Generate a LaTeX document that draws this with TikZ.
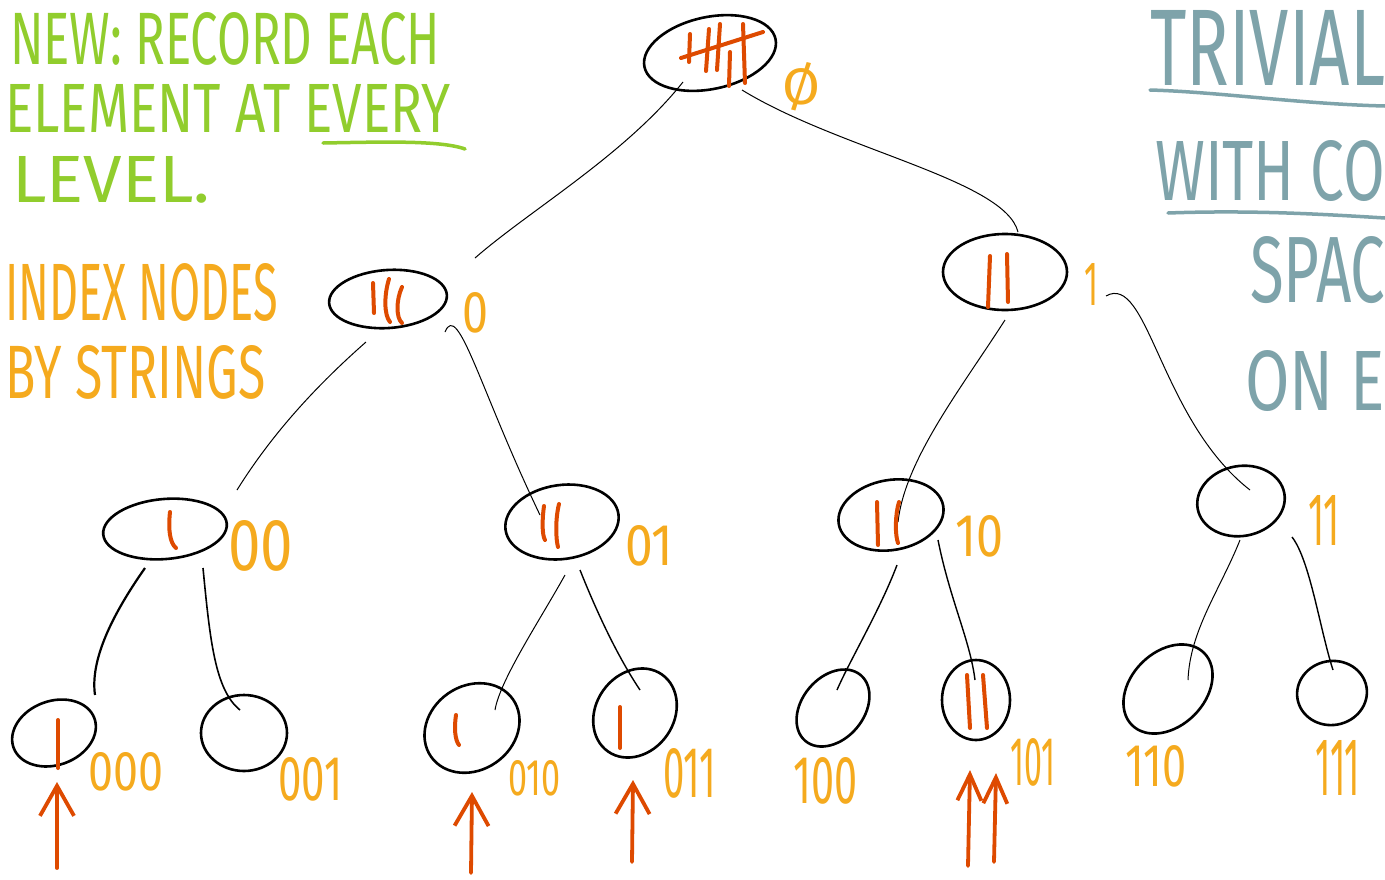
\documentclass[tikz,border=0pt]{standalone}
\usepackage{fontspec}
\setmainfont{Fira Sans}
\usepackage{graphicx}
\usetikzlibrary{shapes.geometric,arrows.meta,calc}
\definecolor{hwgreen}{RGB}{145,205,45}
\definecolor{hworange}{RGB}{245,170,30}
\definecolor{hwred}{RGB}{222,74,0}
\definecolor{hwblue}{RGB}{126,163,170}
\newcommand\hwbox[3]{\resizebox{#1pt}{#2pt}{#3}}
\begin{document}
\begin{tikzpicture}[x=1pt,y=-1pt,
  tnode/.style={ellipse,draw=black,line width=2.6pt,inner sep=0pt},
  edge/.style={draw=black,line width=1pt},
  tally/.style={draw=hwred,line width=4pt,line cap=round},
  redarrow/.style={draw=hwred,line width=3.8pt,line cap=round,-{Straight Barb[length=30pt,width=34pt]}},
  narrowarrow/.style={draw=hwred,line width=3.8pt,line cap=round,-{Straight Barb[length=26pt,width=24pt]}},
  lbl/.style={text=hworange,inner sep=0pt,anchor=base west},
  gtxt/.style={text=hwgreen,inner sep=0pt,anchor=base west},
  otxt/.style={text=hworange,inner sep=0pt,anchor=base west},
  btxt/.style={text=hwblue,inner sep=0pt,anchor=base west},
  uline/.style={line width=3.5pt,line cap=round}
]
\useasboundingbox (0,0) rectangle (1385,879);
\fill[white] (0,0) rectangle (1385,879);

% ---------- tree nodes ----------
\node[tnode,minimum width=134pt,minimum height=72pt,rotate=12] (root) at (710,53) {};
\node[tnode,minimum width=118pt,minimum height=58pt,rotate=4] (n0) at (388,299) {};
\node[tnode,minimum width=124pt,minimum height=76pt] (n1) at (1005,272) {};
\node[tnode,minimum width=124pt,minimum height=60pt,rotate=5] (n00) at (165,529) {};
\node[tnode,minimum width=114pt,minimum height=74pt,rotate=8] (n01) at (562,522) {};
\node[tnode,minimum width=106pt,minimum height=70pt,rotate=10] (n10) at (891,515) {};
\node[tnode,minimum width=88pt,minimum height=70pt,rotate=10] (n11) at (1241,501) {};
\node[tnode,minimum width=86pt,minimum height=64pt,rotate=20] (n000) at (54,733) {};
\node[tnode,minimum width=86pt,minimum height=76pt] (n001) at (244,733) {};
\node[tnode,minimum width=100pt,minimum height=84pt,rotate=35] (n010) at (472,728) {};
\node[tnode,minimum width=94pt,minimum height=78pt,rotate=55] (n011) at (635,713) {};
\node[tnode,minimum width=86pt,minimum height=62pt,rotate=50] (n100) at (833,708) {};
\node[tnode,minimum width=68pt,minimum height=80pt] (n101) at (976,700) {};
\node[tnode,minimum width=102pt,minimum height=74pt,rotate=45] (n110) at (1168,689) {};
\node[tnode,minimum width=70pt,minimum height=64pt,rotate=10] (n111) at (1332,693) {};

% ---------- edge end points ----------
\coordinate (e1a) at (683,82);   \coordinate (e1b) at (475,258);
\coordinate (e2a) at (742,90);   \coordinate (e2b) at (1018,232);
\coordinate (e3a) at (366,342);  \coordinate (e3b) at (237,490);
\coordinate (e4a) at (445,332);  \coordinate (e4b) at (540,515);
\coordinate (e5a) at (1005,320); \coordinate (e5b) at (898,522);
\coordinate (e6a) at (1106,296); \coordinate (e6b) at (1250,490);
\coordinate (e7a) at (145,568);  \coordinate (e7b) at (95,695);
\coordinate (e8a) at (203,568);  \coordinate (e8b) at (240,710);
\coordinate (e9a) at (565,575);  \coordinate (e9b) at (495,710);
\coordinate (e10a) at (580,570); \coordinate (e10b) at (640,690);
\coordinate (e11a) at (897,565); \coordinate (e11b) at (837,690);
\coordinate (e12a) at (938,540); \coordinate (e12b) at (975,680);
\coordinate (e13a) at (1240,540);\coordinate (e13b) at (1188,680);
\coordinate (e14a) at (1292,537);\coordinate (e14b) at (1333,670);

\draw[edge] (e1a) .. controls (625,155) and (530,210) .. (e1b);
\draw[edge] (e2a) .. controls (840,150) and (1005,180) .. (e2b);
\draw[edge] (e3a) .. controls (300,400) and (262,450) .. (e3b);
\draw[edge] (e4a) .. controls (458,300) and (480,390) .. (e4b);
\draw[edge] (e5a) .. controls (960,390) and (905,460) .. (e5b);
\draw[edge] (e6a) .. controls (1148,272) and (1160,420) .. (e6b);
\draw[edge,line width=2.2pt] (e7a) .. controls (112,615) and (90,660) .. (e7b);
\draw[edge,line width=1.6pt] (e8a) .. controls (210,640) and (215,690) .. (e8b);
\draw[edge] (e9a) .. controls (540,620) and (500,680) .. (e9b);
\draw[edge,line width=1.4pt] (e10a) .. controls (600,620) and (620,660) .. (e10b);
\draw[edge,line width=1.4pt] (e11a) .. controls (880,610) and (850,660) .. (e11b);
\draw[edge,line width=1.4pt] (e12a) .. controls (950,600) and (970,640) .. (e12b);
\draw[edge] (e13a) .. controls (1220,590) and (1190,630) .. (e13b);
\draw[edge,line width=1.4pt] (e14a) .. controls (1310,560) and (1320,630) .. (e14b);

% ---------- tallies ----------
\draw[tally] (690,34) -- (689,62);
\draw[tally] (709,29) -- (706,71);
\draw[tally] (720,24) -- (717,70);
\draw[tally] (730,52) -- (729,86);
\draw[tally] (743,24) -- (745,83);
\draw[tally] (681,58) -- (763,32);
\draw[tally] (373,283) -- (374,313);
\draw[tally] (389,279) .. controls (384,295) and (384,315) .. (390,322);
\draw[tally] (402,287) .. controls (396,300) and (396,318) .. (402,323);
\draw[tally] (990,256) -- (988,307);
\draw[tally] (1007,254) -- (1008,302);
\draw[tally] (170,512) .. controls (168,530) and (170,543) .. (176,548);
\draw[tally] (544,506) .. controls (542,520) and (542,535) .. (545,540);
\draw[tally] (559,504) .. controls (555,520) and (556,540) .. (558,547);
\draw[tally] (877,502) -- (878,545);
\draw[tally] (899,502) .. controls (895,515) and (895,535) .. (898,543);
\draw[tally] (58,720) -- (58,768);
\draw[tally] (456,715) .. controls (454,728) and (455,740) .. (459,745);
\draw[tally] (620,707) -- (620,748);
\draw[tally] (967,675) -- (970,728);
\draw[tally] (983,675) -- (987,728);

% ---------- red arrows ----------
\coordinate (a1s) at (57,868);   \coordinate (a1e) at (57,782);
\coordinate (a2s) at (471,873);  \coordinate (a2e) at (472,792);
\coordinate (a3s) at (632,862);  \coordinate (a3e) at (633,780);
\coordinate (a4s) at (968,866);  \coordinate (a4e) at (970,770);
\coordinate (a5s) at (994,862);  \coordinate (a5e) at (996,773);
\draw[redarrow] (a1s) -- (a1e);
\draw[redarrow] (a2s) -- (a2e);
\draw[redarrow] (a3s) -- (a3e);
\draw[narrowarrow] (a4s) -- (a4e);
\draw[narrowarrow] (a5s) -- (a5e);

% ---------- orange node labels ----------
\node[lbl] (lroot) at (782,104) {\hwbox{38}{42}{Ø}};
\node[lbl] (l0) at (462,332) {\hwbox{26}{40}{0}};
\node[lbl] (l1) at (1084,305) {\hwbox{14}{42}{1}};
\node[lbl] (l00) at (228,570) {\hwbox{65}{50}{00}};
\node[lbl] (l01) at (625,565) {\hwbox{48}{40}{01}};
\node[lbl] (l10) at (955,556) {\hwbox{48}{41}{10}};
\node[lbl] (l11) at (1308,545) {\hwbox{32}{50}{11}};
\node[lbl] (l000) at (88,790) {\hwbox{75}{38}{000}};
\node[lbl] (l001) at (278,800) {\hwbox{64}{43}{001}};
\node[lbl] (l010) at (508,795) {\hwbox{52}{35}{010}};
\node[lbl] (l011) at (663,797) {\hwbox{53}{49}{011}};
\node[lbl] (l100) at (793,803) {\hwbox{64}{46}{100}};
\node[lbl] (l101) at (1010,785) {\hwbox{45}{47}{101}};
\node[lbl] (l110) at (1125,786) {\hwbox{61}{41}{110}};
\node[lbl] (l111) at (1315,795) {\hwbox{45}{55}{111}};

% ---------- green notes ----------
\node[gtxt] (g1) at (10,64) {\hwbox{430}{52}{NEW: RECORD EACH}};
\node[gtxt] (g2) at (5,132) {\hwbox{445}{48}{ELEMENT AT EVERY}};
\node[gtxt] (g3) at (12,202) {\hwbox{198}{46}{LEVEL.}};
\draw[hwgreen,uline] (323,143) .. controls (380,142) and (440,140) .. (465,149);

% ---------- orange notes ----------
\node[otxt] (o1) at (5,320) {\hwbox{273}{57}{INDEX NODES}};
\node[otxt] (o2) at (5,398) {\hwbox{260}{53}{BY STRINGS}};

% ---------- blue notes ----------
\node[btxt] (b1) at (1150,85) {\hwbox{235}{75}{TRIVIAL}};
\draw[hwblue,uline] (1150,90) .. controls (1220,92) and (1300,104) .. (1385,106);
\node[btxt] (b2) at (1155,200) {\hwbox{230}{60}{WITH CO}};
\draw[hwblue,uline] (1168,213) .. controls (1250,210) and (1320,214) .. (1385,218);
\node[btxt] (b3) at (1250,302) {\hwbox{135}{66}{SPAC}};
\node[btxt] (b4) at (1245,410) {\hwbox{140}{60}{ON E}};
\end{tikzpicture}
\end{document}
